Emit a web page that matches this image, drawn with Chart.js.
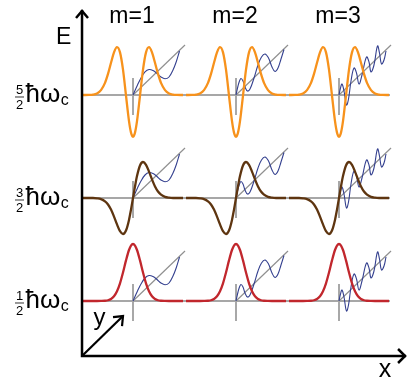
<!DOCTYPE html>
<html><head><meta charset="utf-8">
<script src="https://cdn.jsdelivr.net/npm/chart.js@4/dist/chart.umd.min.js"></script>
<style>html,body{margin:0;padding:0;background:#fff;overflow:hidden}canvas{display:block}</style>
</head><body>
<canvas id="c" width="409" height="381"></canvas>
<script>
// ---------------- data ----------------
const columnLabels = ['m=1', 'm=2', 'm=3'];
const mValues = [1, 2, 3];
const levelEnergies = [0.5, 1.5, 2.5];           // in units of ħω_c
const levelNumerators = ['1', '3', '5'];
const levelDenominators = ['2', '2', '2'];

// wavefunction samples (offset from orbit centre, amplitude)
const waveOffsets = [-50,-44,-40,-36,-32,-28,-25,-22,-19,-16,-13,-10,-7,-4,-2,0,2,4,7,10,13,16,19,22,25,28,32,36,40,44,50];
const psi0 = [0,0,0,0,0.05,0.25,0.75,2.0,4.7,9.7,17.7,28.5,40.6,51.0,55.4,57,55.4,51.0,40.6,28.5,17.7,9.7,4.7,2.0,0.75,0.25,0.05,0,0,0,0];
const psi1 = [0,0,0,-0.3,-1.1,-3.3,-6.5,-11.6,-18.6,-26.4,-33.2,-36.0,-32.5,-21.9,-11.6,0,11.6,21.9,32.5,36.0,33.2,26.4,18.6,11.6,6.5,3.3,1.1,0.3,0,0,0];
const psi2 = [0,0.1,0.4,1.6,4.9,12.1,21.1,32.2,42.6,47.8,42.6,25.3,-0.7,-26.2,-37.6,-41.7,-37.6,-26.2,-0.7,25.3,42.6,47.8,42.6,32.2,21.1,12.1,4.9,1.6,0.4,0.1,0];

// phase spirals (projected helix) for each m
const spiralX_m1 = [0,2,4.5,8,12,16,20,24,28,32,36,40,43.5,46.5];
const spiralY_m1 = [0,4.5,10,17,23,25.5,24.5,21.5,18,16.3,18,25,34,44];
const spiralX_m2 = [0,2,3.5,5,7,9,11.5,14,18,22,25.5,29,32.5,36,39,42,45,48];
const spiralY_m2 = [0,9,14,16.5,14,8,4,6,17,30,38,41,37,28,23.5,27,36,45.5];
const spiralX_m3 = [0,1.5,3,5,7.5,9.5,12,15,17.5,20,23,27.5,30,32,35,38.5,40.5,42.5,45,47];
const spiralY_m3 = [0,7,11,4,-10,-4,14,27,22,11,20,38,33,23,30,49,42,31,35,44];
const diagonalX = [0, 52];
const diagonalY = [0, 50];
const tickY = [17, -20];

// ---------------- layout / style ----------------
const UNIT = 103;                       // sample units per data unit
const X_RANGE = [-0.2913, 3.6796];
const Y_RANGE = [-0.2767, 3.4223];
const AXIS = { x0: 0.505, e0: -0.034, xEnd: 3.651, eTop: 3.325, yTipX: 0.903, yTipE: 0.354 };
const waveColors = ['#C1272D', '#5E3510', '#F7921C'];
const waveSets = [psi0, psi1, psi2];
const spirals = [[spiralX_m1, spiralY_m1], [spiralX_m2, spiralY_m2], [spiralX_m3, spiralY_m3]];
const FONT = '"Liberation Sans", Arial, sans-serif';

const datasets = [];
const line = (data, color, width, order, extra) => Object.assign({
  data, borderColor: color, borderWidth: width, showLine: true, pointRadius: 0,
  fill: false, order, tension: 0, borderCapStyle: 'butt'
}, extra || {});

levelEnergies.forEach((E, li) => {
  // baseline
  datasets.push(line([{x: AXIS.x0, y: E}, {x: mValues[2] + 51 / UNIT, y: E}], '#8a8a8a', 1.5, 6));
  mValues.forEach((m, mi) => {
    datasets.push(line(tickY.map(v => ({x: m, y: E + v / UNIT})), '#a8a8a8', 2, 5));
    datasets.push(line(diagonalX.map((v, i) => ({x: m + v / UNIT, y: E + diagonalY[i] / UNIT})), '#909090', 1.2, 4));
    const [sx, sy] = spirals[mi];
    datasets.push(line(sx.map((v, i) => ({x: m + v / UNIT, y: E + sy[i] / UNIT})), '#34408f', 1.1, 3, {tension: 0.4}));
    datasets.push(line(waveOffsets.map((v, i) => ({x: m + v / UNIT, y: E + waveSets[li][i] / UNIT})), waveColors[li], 2.3, 1, {cubicInterpolationMode: 'monotone'}));
  });
});

const decor = {
  id: 'decor',
  afterDatasetsDraw(chart) {
    const {ctx, scales: {x, y}} = chart;
    const px = v => x.getPixelForValue(v), py = v => y.getPixelForValue(v);
    ctx.save();
    ctx.strokeStyle = '#000'; ctx.fillStyle = '#000';
    ctx.lineWidth = 2.5; ctx.lineCap = 'butt'; ctx.lineJoin = 'miter';
    const ox = px(AXIS.x0), oy = py(AXIS.e0);
    const xe = px(AXIS.xEnd), yt = py(AXIS.eTop);
    ctx.beginPath();
    ctx.moveTo(ox, yt); ctx.lineTo(ox, oy); ctx.lineTo(xe, oy);
    ctx.stroke();
    ctx.beginPath();
    ctx.moveTo(ox - 6, yt + 8); ctx.lineTo(ox, yt + 1); ctx.lineTo(ox + 6, yt + 8);
    ctx.moveTo(xe - 8, oy - 7); ctx.lineTo(xe - 1, oy); ctx.lineTo(xe - 8, oy + 7);
    ctx.stroke();
    // diagonal y arrow
    const tx = px(AXIS.yTipX), ty = py(AXIS.yTipE);
    ctx.lineWidth = 2.2;
    ctx.beginPath();
    ctx.moveTo(ox + 1, oy - 1); ctx.lineTo(tx, ty);
    ctx.stroke();
    ctx.beginPath();
    ctx.moveTo(tx - 10, ty + 1); ctx.lineTo(tx, ty); ctx.lineTo(tx - 1, ty + 10);
    ctx.stroke();
    // texts
    ctx.textBaseline = 'alphabetic';
    ctx.font = '23px ' + FONT; ctx.textAlign = 'left';
    ctx.fillText('E', 56, 44);
    ctx.font = '25px ' + FONT; ctx.textAlign = 'center';
    ctx.fillText('x', 385, 377);
    ctx.font = '24px ' + FONT;
    ctx.fillText('y', 99.5, 325);
    ctx.font = '23px ' + FONT;
    mValues.forEach((m, i) => ctx.fillText(columnLabels[i], px(m) - 1, 23));
    levelEnergies.forEach((E, i) => {
      const yl = py(E);
      ctx.font = '13px ' + FONT; ctx.textAlign = 'center';
      ctx.fillText(levelNumerators[i], 19.5, yl - 0.5);
      ctx.fillText(levelDenominators[i], 19.5, yl + 14);
      ctx.lineWidth = 0.8;
      ctx.beginPath(); ctx.moveTo(15, yl + 2); ctx.lineTo(24, yl + 2); ctx.stroke();
      ctx.textAlign = 'left';
      ctx.font = '26px ' + FONT;
      const hw = 'ħω';
      ctx.fillText(hw, 25.5, yl + 7);
      const w = ctx.measureText(hw).width;
      ctx.font = '16px ' + FONT;
      ctx.fillText('c', 25.5 + w + 0.5, yl + 10);
    });
    ctx.restore();
  }
};

new Chart(document.getElementById('c'), {
  type: 'scatter',
  data: { datasets },
  options: {
    responsive: false, animation: false, devicePixelRatio: 1, events: [],
    layout: { padding: 0 },
    plugins: { legend: { display: false }, tooltip: { enabled: false }, title: { display: false } },
    scales: {
      x: { type: 'linear', display: false, min: X_RANGE[0], max: X_RANGE[1] },
      y: { type: 'linear', display: false, min: Y_RANGE[0], max: Y_RANGE[1] }
    }
  },
  plugins: [decor]
});
</script>
</body></html>
